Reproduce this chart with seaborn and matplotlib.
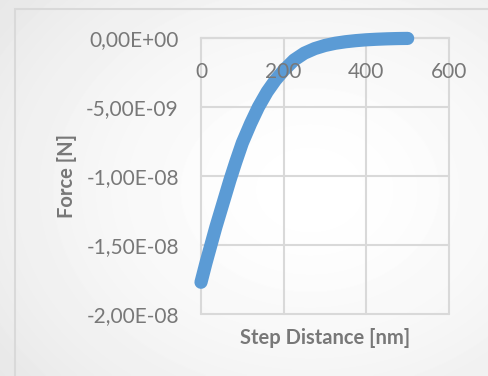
import numpy as np
import pandas as pd
import seaborn as sns
import matplotlib.pyplot as plt
from matplotlib.patches import Rectangle

# --- data ---
step_nm = [0, 12, 24, 36, 48, 60, 70, 84, 100, 120, 139, 160, 180, 200,
           225, 250, 275, 300, 325, 350, 375, 400, 425, 450, 475, 500]
force_n = [-1.77e-8, -1.63e-8, -1.50e-8, -1.37e-8, -1.25e-8, -1.13e-8, -1.03e-8,
           -9.0e-9, -7.6e-9, -6.2e-9, -5.0e-9, -3.9e-9, -3.05e-9, -2.35e-9,
           -1.6e-9, -1.1e-9, -7.7e-10, -5.4e-10, -3.8e-10, -2.7e-10, -1.9e-10,
           -1.3e-10, -9e-11, -6e-11, -4e-11, -3e-11]
x_ticks = [0, 200, 400, 600]
x_tick_labels = ['0', '200', '400', '600']
y_ticks = [0, -5e-9, -1e-8, -1.5e-8, -2e-8]
y_tick_labels = ['0,00E+00', '-5,00E-09', '-1,00E-08', '-1,50E-08', '-2,00E-08']

df = pd.DataFrame({'step': step_nm, 'force': force_n})

sns.set_style('white')
plt.rcParams['font.family'] = ['Lato', 'DejaVu Sans']
text_grey = '#787878'
grid_grey = '#d9d9d9'

fig = plt.figure(figsize=(4.89, 3.76), dpi=100)

# soft radial background like the Excel chart area
bg = fig.add_axes([0, 0, 1, 1], zorder=-2)
yy, xx = np.mgrid[0:376, 0:489]
r = np.hypot((xx - 310) / 330.0, (yy - 190) / 260.0)
shade = 1 - 0.07 * np.clip(r, 0, 1.3) ** 1.6
bg.imshow(shade, cmap='gray', vmin=0, vmax=1, aspect='auto', interpolation='bilinear')
bg.axis('off')
fig.patches.append(Rectangle((15 / 489, -0.01), 1.0, 1 - 9 / 376 + 0.01,
                             transform=fig.transFigure, fill=False,
                             edgecolor=grid_grey, linewidth=1.5))

ax = fig.add_axes([201 / 489, 1 - 314 / 376, 248 / 489, 276 / 376])
ax.set_facecolor('none')

# gridlines drawn by hand so they sit under the curve while tick labels sit on top
for yv in y_ticks:
    ax.axhline(yv, color=grid_grey, linewidth=1.5, zorder=0.5, clip_on=False)
for xv in x_ticks:
    ax.axvline(xv, color=grid_grey, linewidth=1.5, zorder=0.5, clip_on=False)

sns.lineplot(data=df, x='step', y='force', ax=ax, color='#5b9bd5',
             linewidth=9.5, sort=True, zorder=2)
curve = ax.lines[-1]
curve.set_solid_capstyle('round')
curve.set_solid_joinstyle('round')
curve.set_clip_on(False)

ax.set_xlim(0, 600)
ax.set_ylim(-2e-8, 0)
ax.set_xticks(x_ticks)
ax.set_xticklabels(x_tick_labels)
ax.set_yticks(y_ticks)
ax.set_yticklabels(y_tick_labels)

ax.grid(False)
ax.set_axisbelow(False)
for side in ['top', 'right', 'left']:
    ax.spines[side].set_visible(False)
ax.spines['bottom'].set_position(('data', 0))
ax.spines['bottom'].set_color(grid_grey)
ax.spines['bottom'].set_linewidth(1.5)
ax.spines['bottom'].set_zorder(0.5)

ax.tick_params(axis='both', length=0, labelsize=15, labelcolor=text_grey)
ax.tick_params(axis='x', pad=17)
ax.tick_params(axis='y', pad=16)

ax.set_xlabel('Step Distance [nm]', fontsize=14.5, fontweight='bold', color=text_grey)
ax.set_ylabel('Force [N]', fontsize=14.5, fontweight='bold', color=text_grey)
ax.xaxis.set_label_coords(0.5, -0.05)
ax.yaxis.set_label_coords(-0.50, 0.5)

plt.savefig('out.png', dpi=100)
